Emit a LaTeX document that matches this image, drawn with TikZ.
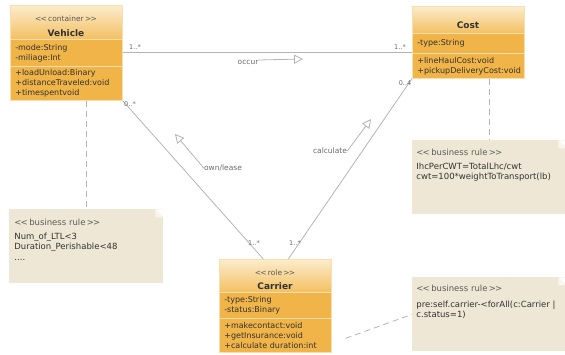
\documentclass[tikz,border=0pt]{standalone}
\usepackage{fontspec}
\setmainfont{DejaVu Sans}
\usetikzlibrary{arrows.meta}
\definecolor{boxorange}{RGB}{240,180,72}
\definecolor{hdrtop}{RGB}{252,236,204}
\definecolor{hdrbot}{RGB}{243,192,98}
\definecolor{boxedge}{RGB}{250,222,172}
\definecolor{notefill}{RGB}{239,231,213}
\definecolor{notefold}{RGB}{249,245,236}
\definecolor{linegray}{RGB}{180,180,180}
\definecolor{labelgray}{RGB}{105,105,105}
\definecolor{stereogray}{RGB}{90,90,90}
\definecolor{textdark}{RGB}{50,50,50}
\newcommand{\stereo}[1]{<\kern-0.8pt<\,#1\,>\kern-0.8pt>}

\begin{document}
\begin{tikzpicture}[x=1pt, y=-1pt, line width=0.8pt,
    hdr/.style={anchor=north west, minimum width=112pt, inner sep=0pt, top color=hdrtop, bottom color=hdrbot, draw=boxedge, line width=0.6pt},
    sect/.style={anchor=north west, text width=102pt, inner xsep=5pt, inner ysep=1pt, align=left, fill=boxorange, draw=boxedge, line width=0.6pt, font=\fontsize{8}{10}\selectfont, text=textdark},
    stereo/.style={font=\fontsize{7.5}{9}\selectfont, text=stereogray, inner sep=0pt},
    cname/.style={font=\fontsize{9}{11}\selectfont\bfseries, text=textdark, inner sep=0pt},
    note/.style={anchor=north west, minimum width=154pt, minimum height=74pt, inner sep=0pt, fill=notefill,
      path picture={
        \fill[white] ([xshift=-8pt]path picture bounding box.north east) -- (path picture bounding box.north east) -- ([yshift=-8pt]path picture bounding box.north east) -- cycle;
        \fill[notefold] ([xshift=-8pt]path picture bounding box.north east) -- ([xshift=-8pt,yshift=-8pt]path picture bounding box.north east) -- ([yshift=-8pt]path picture bounding box.north east) -- cycle;
      }},
    notetext/.style={anchor=north west, align=left, inner sep=0pt, font=\fontsize{8.5}{10.5}\selectfont, text=textdark},
    mult/.style={font=\fontsize{6.5}{8}\selectfont, text=labelgray, inner sep=0pt},
    rolename/.style={font=\fontsize{7.5}{9}\selectfont, text=labelgray, inner sep=0pt},
    assoc/.style={draw=linegray},
    dir/.style={draw=linegray, -{Triangle[open, length=9pt, width=9pt]}},
    anchorline/.style={draw=linegray, dash pattern=on 6pt off 4pt}
  ]
  \useasboundingbox (0,0) rectangle (565,355);

  \node[note] (note1) at (9,209) {};
  \node[note] (note2) at (412,140) {};
  \node[note] (note3) at (412,277) {};
  \node[notetext] (rule1) at (14,219) {{\color{stereogray}\stereo{business rule}}\\[3pt]Num\_of\_LTL<3\\Duration\_Perishable<48\\....};
  \node[notetext] (rule2) at (416,149) {{\color{stereogray}\stereo{business rule}}\\[3pt]IhcPerCWT=TotalLhc/cwt\\cwt=100*weightToTransport(lb)};
  \node[notetext] (rule3) at (416,285) {{\color{stereogray}\stereo{business rule}}\\[5pt]pre:self.carrier-<forAll(c:Carrier |\\c.status=1)};

  \node[hdr, minimum height=34pt] (vhead) at (10,5) {};
  \node[sect, minimum height=27pt] (vattr) at (10,39) {-mode:String\\-miliage:Int};
  \node[sect, minimum height=34pt] (vmeth) at (10,66) {+loadUnload:Binary\\+distanceTraveled:void\\+timespentvoid};
  \node[stereo] (vstereo) at (66,19) {\stereo{container}};
  \node[cname] (vname) at (66,33) {Vehicle};

  \node[hdr, minimum height=27pt] (chead) at (412,6) {};
  \node[sect, minimum height=20pt] (cattr) at (412,33) {-type:String};
  \node[sect, minimum height=25pt] (cmeth) at (412,53) {+lineHaulCost:void\\+pickupDeliveryCost:void};
  \node[cname] (cname) at (468,25) {Cost};

  \node[hdr, minimum height=33pt] (rhead) at (219,259) {};
  \node[sect, minimum height=26pt] (rattr) at (219,292) {-type:String\\-status:Binary};
  \node[sect, minimum height=34pt] (rmeth) at (219,318) {+makecontact:void\\+getInsurance:void\\+calculate duration:int};
  \node[stereo] (rstereo) at (275,273) {\stereo{role}};
  \node[cname] (rname) at (275,286) {Carrier};

  \draw[assoc] (vattr.east) -- (vattr.east -| cattr.west);
  \draw[assoc] (vmeth.south east) -- ([xshift=-12pt]rhead.north);
  \draw[assoc] (cmeth.south west) -- ([xshift=13pt]rhead.north);

  \node[mult] (m1) at (135,47) {1..*};
  \node[mult] (m2) at (400,47) {1..*};
  \node[mult] (m3) at (130,104) {0..*};
  \node[mult] (m4) at (405,83) {0..4};
  \node[mult] (m5) at (254,243) {1..*};
  \node[mult] (m6) at (295,243) {1..*};

  \node[rolename] (occur) at (248,62) {occur};
  \node[rolename] (own) at (223,168) {own/lease};
  \node[rolename] (calc) at (330,151) {calculate};
  \coordinate (occurtip) at (303,59);
  \coordinate (owntip) at (175,134);
  \coordinate (calctip) at (371,119);
  \draw[dir] ([yshift=2pt]occur.east) -- (occurtip);
  \draw[dir] (own.west) -- (owntip);
  \draw[dir] (calc.east) -- (calctip);

  \draw[anchorline] (vmeth.south -| note1.north) -- (note1.north);
  \draw[anchorline] (cmeth.south -| note2.north) -- (note2.north);
  \draw[anchorline] ([xshift=14pt,yshift=-3pt]rmeth.east) -- (note3.west);
\end{tikzpicture}
\end{document}
